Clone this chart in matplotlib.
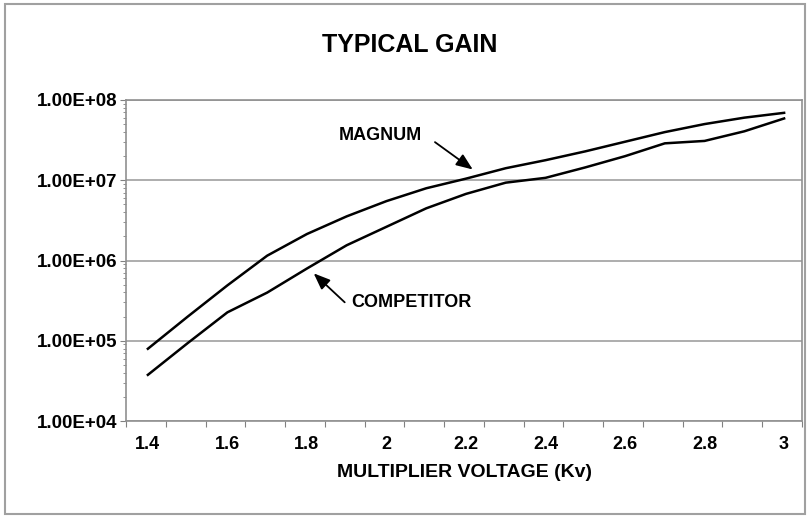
import numpy as np
import matplotlib.pyplot as plt
from matplotlib.patches import Rectangle

plt.rcParams['font.family'] = ['Liberation Sans', 'DejaVu Sans']

# values (gain on log scale)
voltage = [1.4, 1.5, 1.6, 1.7, 1.8, 1.9, 2.0, 2.1, 2.2, 2.3, 2.4, 2.5, 2.6, 2.7, 2.8, 2.9, 3.0]
magnum_log = [4.90, 5.30, 5.69, 6.06, 6.33, 6.55, 6.74, 6.90, 7.02, 7.15, 7.25, 7.36, 7.48, 7.60, 7.70, 7.78, 7.84]
competitor_log = [4.575, 4.97, 5.354, 5.60, 5.90, 6.19, 6.42, 6.65, 6.83, 6.97, 7.03, 7.16, 7.30, 7.46, 7.49, 7.61, 7.77]
x_labels = ['1.4', '1.6', '1.8', '2', '2.2', '2.4', '2.6', '2.8', '3']
y_ticks = [1e4, 1e5, 1e6, 1e7, 1e8]
y_labels = ['1.00E+04', '1.00E+05', '1.00E+06', '1.00E+07', '1.00E+08']

magnum = 10 ** np.array(magnum_log)
competitor = 10 ** np.array(competitor_log)

fig = plt.figure(figsize=(8.09, 5.18), dpi=100)
ax = fig.add_axes([126/809, 1-421/518, 676/809, 321/518])

# outer chart frame
fig.patches.append(Rectangle((5/809, 4/518), 800/809, 510/518, transform=fig.transFigure,
                             fill=False, edgecolor='#a0a0a0', lw=1.5))

ax.plot(voltage, magnum, color='black', lw=1.8)
ax.plot(voltage, competitor, color='black', lw=1.8)

ax.set_yscale('log')
ax.set_ylim(1e4, 1e8)
ax.set_xlim(1.345, 3.045)

ax.set_yticks(y_ticks)
ax.set_yticklabels(y_labels, fontsize=13.5, fontweight='bold')
ax.yaxis.set_minor_locator(plt.matplotlib.ticker.LogLocator(base=10, subs=np.arange(2, 10)))
ax.yaxis.set_minor_formatter(plt.NullFormatter())

# ticks between categories, labels on every other category
ax.set_xticks(np.arange(1.345, 3.05, 0.1))
ax.set_xticklabels([])
ax.set_xticks([float(v) for v in x_labels], minor=True)
ax.set_xticklabels(x_labels, minor=True, fontsize=13, fontweight='bold')
ax.tick_params(axis='x', which='minor', length=0, pad=11)
ax.tick_params(axis='x', which='major', length=4, color='#808080', direction='out')
ax.tick_params(axis='y', which='major', length=4, color='#808080', pad=2)
ax.tick_params(axis='y', which='minor', length=2.5, color='#808080')

ax.grid(axis='y', which='major', color='#a0a0a0', lw=1.2)
for s in ax.spines.values():
    s.set_color('#909090')
    s.set_linewidth(1.2)

ax.set_xlabel('MULTIPLIER VOLTAGE (Kv)', fontsize=14, fontweight='bold', labelpad=8)
fig.text(410/809, 1-45/518, 'TYPICAL GAIN', ha='center', va='center', fontsize=18, fontweight='bold')

arrow = dict(arrowstyle='-|>,head_length=1.0,head_width=0.4', color='black', lw=1.3,
             shrinkA=0, shrinkB=0)
ax.text(1.984, 10**7.5625, 'MAGNUM', fontsize=13, fontweight='bold', ha='center', va='center')
ax.annotate('', xy=(2.217, 10**7.134), xytext=(2.122, 10**7.475), arrowprops=arrow)
ax.text(2.064, 10**5.479, 'COMPETITOR', fontsize=13, fontweight='bold', ha='center', va='center')
ax.annotate('', xy=(1.817, 10**5.84), xytext=(1.895, 10**5.479), arrowprops=arrow)

fig.savefig('out.png', dpi=100)
